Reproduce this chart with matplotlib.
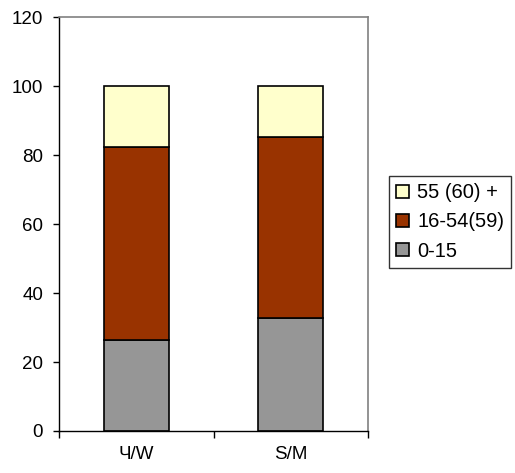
import numpy as np
import matplotlib.pyplot as plt

plt.rcParams['font.family'] = ['Liberation Sans', 'DejaVu Sans']

# data
categories = ['Ч/W', 'S/M']
age_0_15 = [26.4, 32.8]
age_16_54 = [55.8, 52.3]
age_55 = [17.8, 14.9]
labels = ['0-15', '16-54(59)', '55 (60) +']
colors = ['#969696', '#993300', '#FFFFCC']

fig = plt.figure(figsize=(5.15, 4.73), dpi=100)
ax = fig.add_axes([0.1146, 0.0888, 0.6, 0.875])

x = np.arange(len(categories))
w = 0.42
bottom = np.zeros(len(categories))
handles = []
for vals, lab, col in zip([age_0_15, age_16_54, age_55], labels, colors):
    b = ax.bar(x, vals, w, bottom=bottom, color=col, edgecolor='black', linewidth=1.2, label=lab)
    handles.append(b)
    bottom += np.array(vals)

ax.set_xlim(-0.5, 1.5)
ax.set_ylim(0, 120)
ax.set_yticks(np.arange(0, 121, 20))
ax.set_xticks(x)
ax.set_xticklabels(categories)
ax.set_xticks([-0.5, 0.5, 1.5], minor=True)
ax.tick_params(axis='x', which='major', length=0, pad=11, labelsize=13.5)
ax.tick_params(axis='x', which='minor', length=5, width=1, direction='out')
ax.tick_params(axis='y', length=4.5, width=1, direction='out', labelsize=13.5, pad=7)

for s in ['left', 'bottom']:
    ax.spines[s].set_color('black')
    ax.spines[s].set_linewidth(1)
for s in ['top', 'right']:
    ax.spines[s].set_color('#808080')
    ax.spines[s].set_linewidth(1.2)

leg = ax.legend(handles[::-1], labels[::-1], loc='center left', bbox_to_anchor=(1.068, 0.505),
                fontsize=14.5, frameon=True, fancybox=False, edgecolor='black',
                handlelength=0.65, handleheight=0.65, handletextpad=0.4, labelspacing=0.5,
                borderpad=0.35, borderaxespad=0)
leg.get_frame().set_linewidth(1)

fig.savefig('out.png', dpi=100)
